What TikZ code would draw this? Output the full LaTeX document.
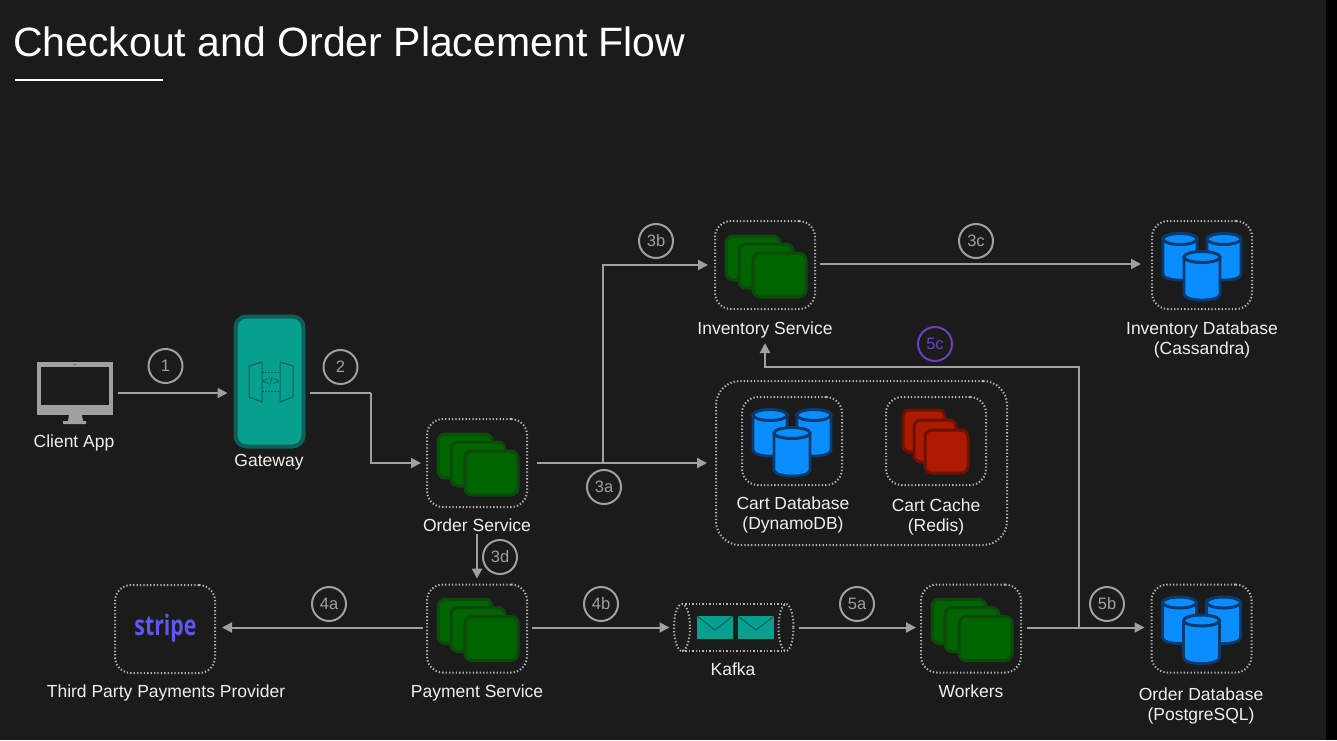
\documentclass[tikz,border=0pt]{standalone}
\usepackage{fontspec}
\setmainfont{Liberation Sans}
\newfontfamily\stripefont{Open Sans}[Scale=1]
\usetikzlibrary{arrows.meta,calc}
\definecolor{bgc}{HTML}{1B1B1B}
\definecolor{linec}{HTML}{A0A0A0}
\definecolor{dotc}{HTML}{B4B4B4}
\definecolor{txtc}{HTML}{EFEFEF}
\definecolor{greenf}{HTML}{006400}
\definecolor{greend}{HTML}{0B4A0B}
\definecolor{redf}{HTML}{AE1A00}
\definecolor{redd}{HTML}{6E1206}
\definecolor{bluef}{HTML}{0A8EFF}
\definecolor{blued}{HTML}{0B3B6E}
\definecolor{tealf}{HTML}{07A08E}
\definecolor{teald}{HTML}{0D5F57}
\definecolor{purp}{HTML}{6A3FC4}
\definecolor{stripec}{HTML}{5F57F0}
\newcommand\cardbox[6]{\draw[rounded corners=7pt,line width=3pt,draw=#6,fill=#5] (#1,#2) rectangle (#3,#4);}
\newcommand\cyl[4]{%
  \draw[line width=2.8pt,draw=blued,fill=bluef,line join=round]
    ({#1-#2},#3) -- ({#1-#2},#4) .. controls ({#1-#2},{#4+8}) and ({#1+#2},{#4+8}) .. ({#1+#2},#4) -- ({#1+#2},#3) -- cycle;
  \draw[line width=3pt,draw=blued,fill=bluef] (#1,#3) ellipse [x radius=#2,y radius=5.5];}
\tikzset{
  x=1pt,y=-1pt,
  dotstroke/.style={draw=dotc,line width=2pt,dash pattern=on 1.3pt off 2.1pt},
  dotbox/.style={dotstroke,rounded corners=16pt,minimum width=100pt,minimum height=88pt,inner sep=0pt,outer sep=0pt},
  lbl/.style={text=txtc,font=\fontsize{17.5}{20.5}\selectfont,align=center,inner sep=0pt},
  badge/.style={circle,draw=linec,line width=2pt,minimum size=34pt,inner sep=0pt,text=linec,font=\fontsize{16.5}{18}\selectfont},
  conn/.style={draw=linec,line width=2pt},
  arr/.style={conn,-{Triangle[length=10pt,width=10pt]}},
  pics/svcstack/.style={code={
    \cardbox{-39}{-29}{15}{15}{greenf}{greend}
    \cardbox{-26}{-21}{28}{23}{greenf}{greend}
    \cardbox{-12}{-12}{41}{32}{greenf}{greend}}},
  pics/cachestack/.style={code={
    \cardbox{-33}{-31}{9}{11}{redf}{redd}
    \cardbox{-22}{-21}{20}{21}{redf}{redd}
    \cardbox{-11}{-11}{32}{32}{redf}{redd}}},
  pics/dbtrio/.style={code={
    \cyl{-22}{17}{-26}{9}
    \cyl{22}{17}{-26}{9}
    \cyl{0}{18}{-8}{29}}},
}
\begin{document}
\begin{tikzpicture}
\useasboundingbox (0,0) rectangle (1337,740);
\fill[black] (0,0) rectangle (1337,740);
\fill[bgc] (0,0) rectangle (1326,740);
% title
\node[text=white,font=\fontsize{41}{46}\selectfont,inner sep=0pt,anchor=west] (title) at (13,42) {Checkout and Order Placement Flow};
\coordinate (ruleL) at (15,80);
\coordinate (ruleR) at (163,80);
\draw[white,line width=2pt] (ruleL) -- (ruleR);

% client monitor
\node[minimum width=76pt,minimum height=62pt,inner sep=0pt,outer sep=0pt] (client) at (75,393) {};
\fill[linec] (37,362) rectangle (113,415);
\fill[bgc] (41,367) rectangle (109,405);
\fill[bgc] (75,364.5) circle (0.7);
\fill[linec] (69,415) -- (82,415) -- (83,421) -- (86,421) -- (86,424) -- (63,424) -- (63,421) -- (68,421) -- cycle;
\node[lbl] (clientlbl) at (74,443) {Client App};

% gateway
\node[draw=teald,fill=tealf,line width=4pt,rounded corners=11pt,minimum width=68pt,minimum height=130pt,inner sep=0pt,outer sep=2pt] (gateway) at (269.5,381.5) {};
\draw[teald,line width=1pt,line join=round] (249,366) -- (262,362) -- (262,402) -- (249,397) -- cycle;
\draw[teald,line width=1pt,line join=round] (293,366) -- (280,362) -- (280,402) -- (293,397) -- cycle;
\draw[teald,line width=0.8pt,dash pattern=on 1.5pt off 1.5pt] (262,372) -- (280,372) (262,391) -- (280,391);
\node[text=teald,inner sep=0pt,font=\fontsize{12}{12}\selectfont] (gwicon) at (271,381.5) {</>};
\node[lbl] (gatewaylbl) at (269,462) {Gateway};

% services
\node[dotbox] (order) at (477,463) {};
\pic at (order) {svcstack};
\node[lbl] (orderlbl) at (477,525) {Order Service};
\node[dotbox] (inventory) at (765,265) {};
\pic at (inventory) {svcstack};
\node[lbl] (inventorylbl) at (765,330) {Inventory Service};
\node[dotbox] (payment) at (477,628.5) {};
\pic at (payment) {svcstack};
\node[lbl] (paymentlbl) at (477,693) {Payment Service};
\node[dotbox] (workers) at (971,628.5) {};
\pic at (workers) {svcstack};
\node[lbl] (workerslbl) at (971,691) {Workers};

% databases
\node[dotbox] (invdb) at (1202,265) {};
\pic at (invdb) {dbtrio};
\node[lbl] (invdblbl) at (1202,340) {Inventory Database\\(Cassandra)};
\node[dotbox] (orderdb) at (1201.5,628.5) {};
\pic at (orderdb) {dbtrio};
\node[lbl] (orderdblbl) at (1201,706) {Order Database\\(PostgreSQL)};

% cart group
\node[dotbox,minimum width=291pt,minimum height=164pt,rounded corners=24pt] (cartgroup) at (861.5,463) {};
\node[dotbox] (cartdb) at (792,441) {};
\pic at (cartdb) {dbtrio};
\node[lbl] (cartdblbl) at (793,515) {Cart Database\\(DynamoDB)};
\node[dotbox] (cartcache) at (936,441) {};
\pic at (cartcache) {cachestack};
\node[lbl] (cartcachelbl) at (936,517) {Cart Cache\\(Redis)};

% stripe
\node[dotbox] (stripe) at (165,629) {};
\node[text=stripec,inner sep=0pt,font=\stripefont\bfseries\fontsize{28}{30}\selectfont] (stripelogo) at (165.5,628) {\scalebox{0.76}[1]{stripe}};
\node[lbl] (stripelbl) at (166,693) {Third Party Payments Provider};

% kafka
\node[minimum width=119pt,minimum height=47pt,inner sep=0pt,outer sep=0pt] (kafka) at (734,627.5) {};
\draw[dotstroke] (682,604) -- (786,604) (682,651) -- (786,651);
\draw[dotstroke] (682,627.5) ellipse [x radius=8,y radius=23.5];
\draw[dotstroke] (786,627.5) ellipse [x radius=7.5,y radius=23.5];
\foreach \ex in {697,738}{
  \fill[tealf] (\ex,616) rectangle ({\ex+36},639);
  \draw[teald,line width=1pt] (\ex,616) -- ({\ex+18},630) -- ({\ex+36},616);
}
\node[lbl] (kafkalbl) at (733,669) {Kafka};

% junctions and ends
\coordinate (j2a) at (371,393);
\coordinate (j2b) at (371,463);
\coordinate (gwin) at (gateway.west |- client.east);
\coordinate (gwout) at (gateway.east |- client.east);
\coordinate (j3) at (603,463);
\coordinate (j3up) at (603,265);
\coordinate (j5) at (1079,627.5);
\coordinate (j5a) at (1079,367);
\coordinate (j5b) at (765,367);
\coordinate (invlblb) at (765,343);

% connectors
\draw[arr,shorten <=5pt,shorten >=6pt] (client.east) -- (gwin);
\draw[conn,shorten <=4pt] (gwout) -- (j2a);
\draw[arr,shorten >=6pt] (j2a) -- (j2b) -- (order.west);
\draw[arr,shorten <=10pt,shorten >=9pt] (order.east) -- (cartgroup.west);
\draw[arr,shorten >=7pt] (j3) -- (j3up) -- (inventory.west);
\draw[arr,shorten <=5pt,shorten >=11pt] ([yshift=1pt]inventory.east) -- ([yshift=1pt]invdb.west);
\draw[arr,shorten >=6pt] (orderlbl.south) ++(0,2) coordinate (o3d) (o3d) -- (payment.north);
\draw[arr,shorten <=4pt,shorten >=7pt] ([yshift=1pt]payment.west) -- ([yshift=1.5pt]stripe.east);
\draw[arr,shorten <=5pt,shorten >=5pt] ([yshift=1pt]payment.east) -- (kafka.west);
\draw[arr,shorten <=5pt,shorten >=5pt] (kafka.east) -- ([yshift=1pt]workers.west);
\draw[arr,shorten <=6pt,shorten >=7pt] ([yshift=1pt]workers.east) -- ([yshift=1pt]orderdb.west);
\draw[arr] (j5) -- (j5a) -- (j5b) -- (invlblb);

% badges
\node[badge] (b1) at (165.5,366) {1};
\node[badge] (b2) at (340.5,367) {2};
\node[badge] (b3a) at (604,487) {3a};
\node[badge] (b3b) at (656,241) {3b};
\node[badge] (b3c) at (976,241) {3c};
\node[badge] (b3d) at (500,557) {3d};
\node[badge] (b4a) at (329,604) {4a};
\node[badge] (b4b) at (601,604) {4b};
\node[badge] (b5a) at (857,604) {5a};
\node[badge] (b5b) at (1107,604) {5b};
\node[badge,draw=purp,text=purp] (b5c) at (935,344) {5c};
\end{tikzpicture}
\end{document}
